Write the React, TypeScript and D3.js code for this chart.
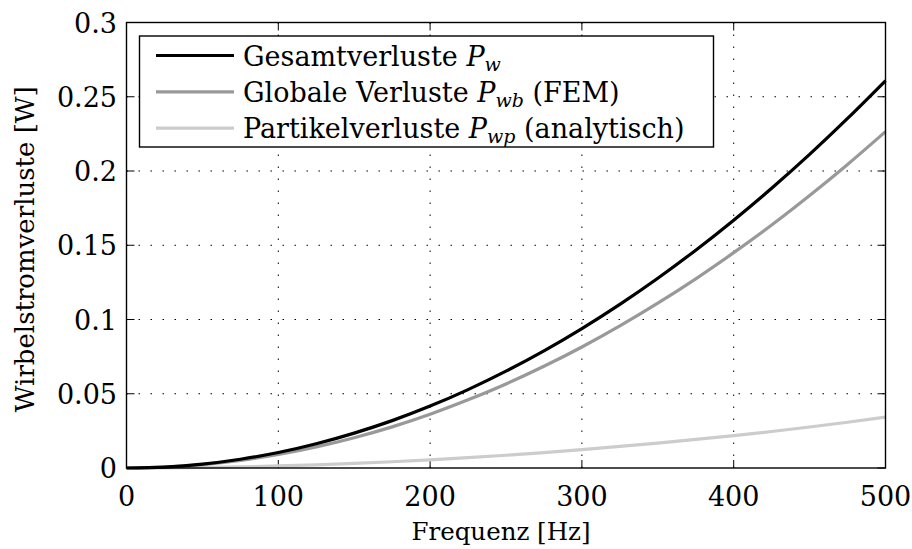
import React from "react";
import * as d3 from "d3";

const freq = [0, 25, 50, 75, 100, 125, 150, 175, 200, 225, 250, 275, 300, 325, 350, 375, 400, 425, 450, 475, 500];
const pTotal = [0, 0.00065, 0.0026, 0.0059, 0.0104, 0.0163, 0.0235, 0.0319, 0.0417, 0.0528, 0.0652, 0.0789, 0.0939, 0.1102, 0.1278, 0.1467, 0.1669, 0.1884, 0.2112, 0.2354, 0.2608];
const pGlobal = [0, 0.00057, 0.00227, 0.0051, 0.0091, 0.0142, 0.0204, 0.0277, 0.0362, 0.0459, 0.0566, 0.0685, 0.0815, 0.0957, 0.111, 0.1274, 0.145, 0.1636, 0.1835, 0.2044, 0.2265];
const pParticle = [0, 0.00009, 0.00034, 0.00077, 0.00137, 0.00214, 0.00309, 0.0042, 0.00549, 0.00695, 0.00858, 0.01038, 0.01235, 0.0145, 0.0168, 0.0193, 0.0218, 0.0246, 0.0276, 0.0308, 0.0343];
const xTicks = [0, 100, 200, 300, 400, 500];
const yTicks = [0, 0.05, 0.1, 0.15, 0.2, 0.25, 0.3];
const yTickLabels = ["0", "0.05", "0.1", "0.15", "0.2", "0.25", "0.3"];
const seriesNames = ["Gesamtverluste", "Globale Verluste", "Partikelverluste"];
const seriesSubs = ["w", "wb", "wp"];
const seriesSuffix = ["", " (FEM)", " (analytisch)"];
const seriesColors = ["#000000", "#999999", "#cccccc"];

const W = 912, H = 549;
const L = 126.5, R = 885.5, T = 22.5, B = 468;
const FONT = "DejaVu Serif, Liberation Serif, serif";

export default function App() {
  const x = d3.scaleLinear().domain([0, 500]).range([L, R]);
  const y = d3.scaleLinear().domain([0, 0.3]).range([B, T]);
  const series = [pTotal, pGlobal, pParticle];
  const line = (vals: number[]) =>
    d3.line<number>().x((_, i) => x(freq[i])).y((v) => y(v)).curve(d3.curveMonotoneX)(vals) || "";
  const tickLen = 8;
  const legX = 139.5, legY = 36, legW = 574, legH = 111;
  return (
    <svg width={W} height={H} style={{ position: "absolute", left: 0, top: 0, background: "#fff" }} fontFamily={FONT}>
      <rect x={0} y={0} width={W} height={H} fill="#fff" />
      {/* grid */}
      <g stroke="#000" strokeWidth={1} strokeDasharray="1.5 10.5">
        {xTicks.slice(1, -1).map((t) => (
          <line key={"gx" + t} x1={x(t)} x2={x(t)} y1={B} y2={T} />
        ))}
        {yTicks.slice(1, -1).map((t) => (
          <line key={"gy" + t} x1={L} x2={R} y1={y(t)} y2={y(t)} />
        ))}
      </g>
      {/* ticks */}
      <g stroke="#000" strokeWidth={1}>
        {xTicks.map((t) => (
          <g key={"tx" + t}>
            <line x1={x(t)} x2={x(t)} y1={B} y2={B - tickLen} />
            <line x1={x(t)} x2={x(t)} y1={T} y2={T + tickLen} />
          </g>
        ))}
        {yTicks.map((t) => (
          <g key={"ty" + t}>
            <line x1={L} x2={L + tickLen} y1={y(t)} y2={y(t)} />
            <line x1={R} x2={R - tickLen} y1={y(t)} y2={y(t)} />
          </g>
        ))}
      </g>
      {/* curves */}
      {series.slice().reverse().map((s, ri) => {
        const i = series.length - 1 - ri;
        return <path key={"s" + i} d={line(s)} fill="none" stroke={seriesColors[i]} strokeWidth={3.2} />;
      })}
      {/* axes box */}
      <rect x={L} y={T} width={R - L} height={B - T} fill="none" stroke="#000" strokeWidth={1.4} />
      {/* tick labels */}
      <g fontSize={27} fill="#000">
        {xTicks.map((t) => (
          <text key={"lx" + t} x={x(t)} y={506} textAnchor="middle">{t}</text>
        ))}
        {yTicks.map((t, i) => (
          <text key={"ly" + t} x={117} y={y(t) + 10} textAnchor="end">{yTickLabels[i]}</text>
        ))}
      </g>
      {/* axis labels */}
      <text x={(L + R) / 2 - 5} y={540} textAnchor="middle" fontSize={24.5}>Frequenz [Hz]</text>
      <text transform={`translate(34, ${(T + B) / 2 + 4}) rotate(-90)`} textAnchor="middle" fontSize={26}>Wirbelstromverluste [W]</text>
      {/* legend */}
      <rect x={legX} y={legY} width={legW} height={legH} fill="#fff" stroke="#000" strokeWidth={1.4} />
      {seriesNames.map((n, i) => {
        const cy = 55.5 + i * 36.3;
        return (
          <g key={"leg" + i}>
            <line x1={156} x2={234} y1={cy} y2={cy} stroke={seriesColors[i]} strokeWidth={3.2} />
            <text x={243} y={cy + 10} fontSize={27}>
              {n + " "}
              <tspan fontStyle="italic">P</tspan>
              <tspan fontStyle="italic" fontSize={19} dy={5}>{seriesSubs[i]}</tspan>
              <tspan dy={-5}>{seriesSuffix[i]}</tspan>
            </text>
          </g>
        );
      })}
    </svg>
  );
}
